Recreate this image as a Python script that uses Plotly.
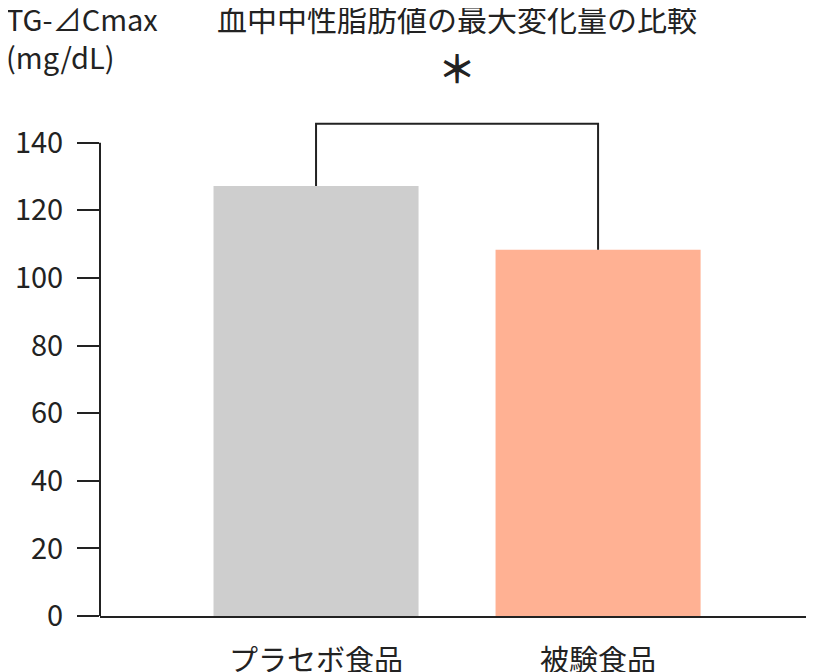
import plotly.graph_objects as go

# data
categories = ['プラセボ食品', '被験食品']
tg_cmax = [127.2, 108.3]
bar_colors = ['#cecece', '#ffb193']
bracket_y = 145.6
y_ticks = [0, 20, 40, 60, 80, 100, 120, 140]

title_text = '血中中性脂肪値の最大変化量の比較'
y_title_text = 'TG-⊿Cmax<br>(mg/dL)'
sig_mark = '＊'

ink = '#222222'
font_jp = 'Noto Sans CJK JP'

fig = go.Figure()

fig.add_trace(go.Bar(
    x=[0, 1],
    y=tg_cmax,
    width=0.727,
    marker=dict(color=bar_colors, line=dict(width=0)),
    hoverinfo='skip',
    showlegend=False,
))

# significance bracket from each bar top up to the bracket height
fig.add_trace(go.Scatter(
    x=[0, 0, 1, 1],
    y=[tg_cmax[0], bracket_y, bracket_y, tg_cmax[1]],
    mode='lines',
    line=dict(color=ink, width=2),
    hoverinfo='skip',
    showlegend=False,
))

# y axis line only up to the last tick
fig.add_shape(
    type='line', xref='paper', yref='y',
    x0=0, x1=0, y0=0, y1=y_ticks[-1],
    line=dict(color=ink, width=2),
)

fig.add_annotation(
    x=0.5, y=1, xref='x', yref='paper',
    yshift=9, yanchor='middle',
    text=sig_mark, showarrow=False,
    font=dict(family=font_jp, size=38, color=ink, weight=700),
)
fig.add_annotation(
    x=0, y=1, xref='paper', yref='paper',
    xshift=-96, yshift=80,
    xanchor='left', yanchor='top', align='left',
    text=y_title_text, showarrow=False,
    font=dict(family=font_jp, size=29, color=ink),
)
fig.add_annotation(
    x=0.5, y=1, xref='x', yref='paper',
    xshift=0, yshift=81,
    xanchor='center', yanchor='top',
    text=title_text, showarrow=False,
    font=dict(family=font_jp, size=30, color=ink),
)

fig.update_layout(
    width=814, height=672,
    margin=dict(l=92, r=0, t=67, b=64),
    paper_bgcolor='white',
    plot_bgcolor='white',
    font=dict(family=font_jp, color=ink),
)
fig.update_xaxes(
    range=[-0.766, 1.794],
    tickvals=[0, 1],
    ticktext=categories,
    ticks='',
    showline=True, linecolor=ink, linewidth=2,
    showgrid=False, zeroline=False,
    tickfont=dict(family=font_jp, size=29, color=ink),
    ticklabelstandoff=18,
    automargin=False,
)
fig.update_yaxes(
    range=[0, 160],
    tickvals=y_ticks,
    ticks='outside', ticklen=22, tickwidth=2, tickcolor=ink,
    showline=False, showgrid=False, zeroline=False,
    tickfont=dict(family=font_jp, size=29, color=ink),
    ticklabelstandoff=8,
    automargin=False,
)

fig.write_html('out.html')
